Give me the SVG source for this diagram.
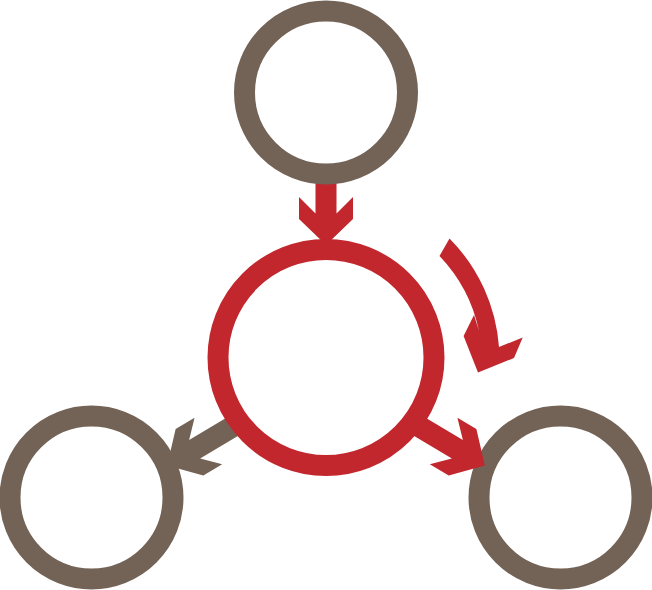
<svg xmlns="http://www.w3.org/2000/svg" width="652" height="590" viewBox="0 0 652 590">
  <style>
    .brown { fill: none; stroke: #736356; stroke-width: 21; }
    .red { fill: none; stroke: #C1272D; stroke-width: 21; }
    .fb { fill: #736356; stroke: none; }
    .fr { fill: #C1272D; stroke: none; }
  </style>
  <rect width="652" height="590" fill="#ffffff"/>
  <g id="connectors">
    <polygon id="arrow-left" class="fb" points="240.68,409.23 189.13,439.93 194.56,417.78 175.65,429.04 167.13,465.55 203.29,475.44 222.20,464.18 200.13,458.41 251.68,427.71"/>
    <polygon id="arrow-top" class="fr" points="315.5,175 315.5,213.5 299,197 299,219 326,245 353,219 353,197 336.5,213.5 336.5,175"/>
  </g>
  <g id="node-top">
    <circle class="brown" cx="326" cy="92.5" r="81.5"/>
  </g>
  <g id="node-left">
    <circle class="brown" cx="91.5" cy="497.5" r="81.5"/>
  </g>
  <g id="node-right">
    <circle class="brown" cx="560.5" cy="497.5" r="81.5"/>
  </g>
  <g id="connectors-red">
    <polygon id="arrow-right" class="fr" points="411.32,409.23 462.87,439.93 457.44,417.78 476.35,429.04 484.87,465.55 448.71,475.44 429.80,464.18 451.87,458.41 400.32,427.71"/>
    <path id="arrow-cycle" class="fr" d="M 449.5 238.5 A 172 172 0 0 1 499 347 L 522.7 337.5 L 514 358 L 478 372.5 L 463.6 336 L 474 315 L 479 331 A 154 154 0 0 0 439.5 256 Z"/>
  </g>
  <g id="node-center">
    <circle class="red" cx="326" cy="357.5" r="108"/>
  </g>
</svg>
